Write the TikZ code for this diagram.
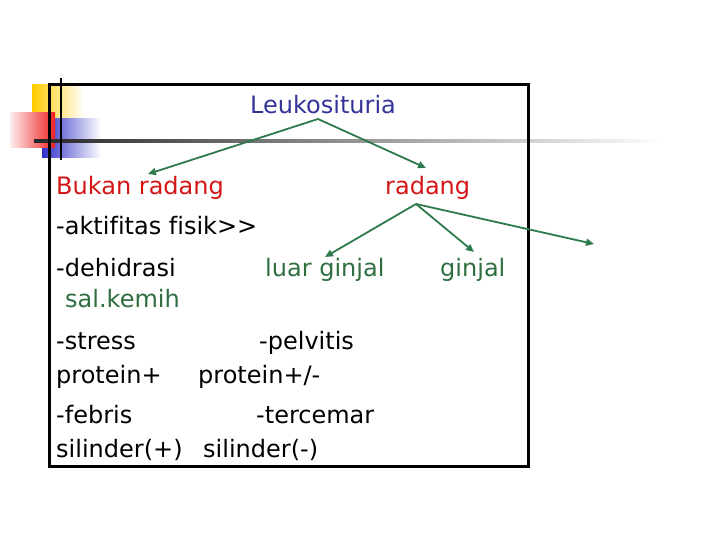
\documentclass[tikz,border=0pt]{standalone}
\usepackage{fontspec}
\setmainfont{DejaVu Sans}[Ligatures={NoCommon}]
\usetikzlibrary{arrows.meta}
\definecolor{tblue}{HTML}{333399}
\definecolor{tred}{HTML}{D41515}
\definecolor{tgreen}{HTML}{2E6E40}
\definecolor{agreen}{HTML}{2E7A4C}
\definecolor{dyellow}{HTML}{FFCC00}
\definecolor{dred}{HTML}{EE2020}
\definecolor{dblue}{HTML}{3030C8}
\tikzset{
  txt/.style={anchor=base west, inner sep=0pt, font=\fontsize{24}{28}\selectfont},
  blk/.style={txt, text=black},
  redt/.style={txt, text=tred},
  grnt/.style={txt, text=tgreen},
  arr/.style={draw=agreen, line width=1.8pt, -{Triangle[length=8pt,width=7pt]}},
}
\begin{document}
\begin{tikzpicture}[x=1pt,y=-1pt]
\useasboundingbox (0,0) rectangle (720,540);
% decoration
\shade[left color=dyellow, middle color=dyellow, right color=white] (32,85) rectangle (84,120);
\shade[left color=dblue, middle color=dblue, right color=white] (42,119) rectangle (101,158);
\shade[left color=dred!8, right color=dred] (10,113) rectangle (55,148);
\shade[left color=black!85, right color=white] (34,140) rectangle (665,142.5);
\draw[line width=2pt] (61,78) -- (61,160);
% frame
\draw[line width=3pt] (49,85) rectangle (528,466);
% texts
\node[txt, text=tblue] (leuk) at (250,114) {Leukosituria};
\node[redt] (bukan) at (56,195) {Bukan radang};
\node[redt] (rad) at (385,195) {radang};
\node[blk] (akt) at (56,234) {-aktifitas fisik>{}>};
\node[blk] (deh) at (56,276) {-dehidrasi};
\node[grnt] (luar) at (265,276) {luar ginjal};
\node[grnt] (ginj) at (440,276) {ginjal};
\node[grnt] (sal) at (65,307) {sal.kemih};
\node[blk] (str) at (56,349) {-stress};
\node[blk] (pel) at (259,349) {-pelvitis};
\node[blk] (pro1) at (56,383) {protein+};
\node[blk] (pro2) at (198,383) {protein+/-};
\node[blk] (feb) at (56,423) {-febris};
\node[blk] (ter) at (256,423) {-tercemar};
\node[blk] (sil1) at (56,457) {silinder(+)};
\node[blk] (sil2) at (203,457) {silinder(-)};
% connector points
\coordinate (lfork) at (318,119);
\coordinate (rfork) at (416,204);
\coordinate (tbukan) at (148,174);
\coordinate (trad) at (426,168);
\coordinate (tluar) at (325,257);
\coordinate (tginj) at (474,252);
\coordinate (tout) at (594,244);
\draw[arr] (lfork) -- (tbukan);
\draw[arr] (lfork) -- (trad);
\draw[arr] (rfork) -- (tluar);
\draw[arr] (rfork) -- (tginj);
\draw[arr] (rfork) -- (tout);
\end{tikzpicture}
\end{document}
